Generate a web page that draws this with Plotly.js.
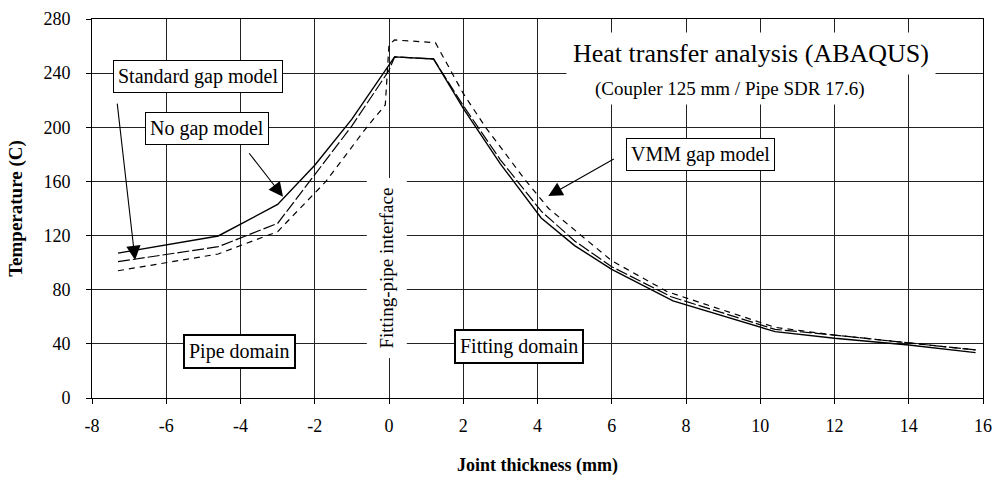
<!DOCTYPE html>
<html>
<head>
<meta charset="utf-8">
<script src="https://cdn.plot.ly/plotly-3.0.1.min.js"></script>
<style>html,body{margin:0;padding:0;background:#fff;}#chart{width:997px;height:479px;}</style>
</head>
<body>
<div id="chart"></div>
<script>
// Joint thickness (mm) vs temperature (C)
const xNoGap = [-7.3, -4.6, -3.0, -2.0, -1.0, 0.15, 1.2, 2.0, 3.0, 4.1, 5.0, 6.0, 7.65, 10.4, 12.0, 14.0, 15.8];
const yNoGap = [107, 119.7, 143, 172, 206, 252, 250.5, 214, 173, 133, 112.6, 95, 71.7, 49, 44.1, 39.2, 33.5];

const xStandard = [-7.3, -4.6, -3.0, -2.0, -1.0, 0.0, 0.15, 1.2, 2.0, 3.0, 4.1, 5.0, 6.0, 7.6, 10.4, 12.0, 14.0, 15.8];
const yStandard = [100.7, 111.8, 129, 165, 201, 242, 252, 250.5, 216, 176, 138, 116, 97, 74.8, 50.7, 46.5, 40.9, 35.5];

const xVmm = [-7.3, -4.6, -3.0, -1.7, -0.6, -0.1, 0.0, 0.15, 1.25, 2.0, 2.6, 3.7, 4.3, 5.6, 6.0, 7.5, 10.4, 12.0, 14.0, 15.8];
const yVmm = [94, 106.4, 122.9, 160, 200, 216.5, 261, 264.5, 262.5, 225, 200, 160, 140, 110.6, 101.4, 78.5, 52.2, 46.5, 40.9, 35.5];

const xTicks = [-8, -6, -4, -2, 0, 2, 4, 6, 8, 10, 12, 14, 16];
const yTicks = [0, 40, 80, 120, 160, 200, 240, 280];

const titleText = 'Heat transfer analysis (ABAQUS)';
const subtitleText = '(Coupler 125 mm / Pipe SDR 17.6)';
const xTitle = 'Joint thickness (mm)';
const yTitle = 'Temperature (C)';

const serif = 'Liberation Serif, Times New Roman, serif';

const traces = [
  {x: xNoGap, y: yNoGap, mode: 'lines', name: 'No gap model',
   line: {color: '#000', width: 1.4, dash: 'solid'}},
  {x: xStandard, y: yStandard, mode: 'lines', name: 'Standard gap model',
   line: {color: '#000', width: 1.2, dash: '12px,3px'}},
  {x: xVmm, y: yVmm, mode: 'lines', name: 'VMM gap model',
   line: {color: '#000', width: 1.2, dash: '6px,5px'}}
];

const boxFont = {family: serif, size: 20, color: '#000'};
const C = {xref: 'paper', yref: 'paper', xanchor: 'center', yanchor: 'middle', showarrow: false};

const annotations = [
  Object.assign({}, C, {x: 0.740, y: 0.910, text: titleText,
   font: {family: serif, size: 26, color: '#000'}, bgcolor: '#fff', borderpad: 6}),
  Object.assign({}, C, {x: 0.7155, y: 0.8166, text: subtitleText,
   font: {family: serif, size: 19, color: '#000'}, bgcolor: '#fff', borderpad: 4}),
  Object.assign({}, C, {x: 0.119, y: 0.848, text: 'Standard gap model',
   font: boxFont, bgcolor: '#fff', bordercolor: '#000', borderwidth: 1, borderpad: 4}),
  Object.assign({}, C, {x: 0.129, y: 0.712, text: 'No gap model',
   font: boxFont, bgcolor: '#fff', bordercolor: '#000', borderwidth: 1, borderpad: 4}),
  Object.assign({}, C, {x: 0.683, y: 0.642, text: 'VMM gap model',
   font: boxFont, bgcolor: '#fff', bordercolor: '#000', borderwidth: 1, borderpad: 4}),
  Object.assign({}, C, {x: 0.165, y: 0.123, text: 'Pipe domain',
   font: boxFont, bgcolor: '#fff', bordercolor: '#000', borderwidth: 2, borderpad: 4}),
  Object.assign({}, C, {x: 0.479, y: 0.135, text: 'Fitting domain',
   font: boxFont, bgcolor: '#fff', bordercolor: '#000', borderwidth: 2, borderpad: 4}),
  Object.assign({}, C, {x: 0.331, y: 0.344, text: 'Fitting-pipe interface',
   textangle: -90, font: {family: serif, size: 19, color: '#000'}, bgcolor: '#fff', borderpad: 9}),
  // arrows
  {xref: 'x', yref: 'y', x: -6.84, y: 101.9, text: '', showarrow: true, ax: -18, ay: -158,
   arrowhead: 2, arrowsize: 2.6, arrowwidth: 1.1, arrowcolor: '#000', standoff: 0},
  {xref: 'x', yref: 'y', x: -2.855, y: 148.7, text: '', showarrow: true, ax: -35, ay: -45,
   arrowhead: 2, arrowsize: 2.6, arrowwidth: 1.1, arrowcolor: '#000', standoff: 0},
  {xref: 'x', yref: 'y', x: 4.29, y: 149.2, text: '', showarrow: true, ax: 67, ay: -38,
   arrowhead: 2, arrowsize: 2.6, arrowwidth: 1.1, arrowcolor: '#000', standoff: 0}
];

const layout = {
  width: 997, height: 479,
  margin: {l: 92, r: 14, t: 19, b: 81},
  paper_bgcolor: '#fff', plot_bgcolor: '#fff',
  showlegend: false,
  font: {family: serif, size: 18, color: '#000'},
  xaxis: {
    range: [-8, 16], tickvals: xTicks, ticktext: xTicks.map(String), automargin: false,
    showgrid: true, gridcolor: '#222', gridwidth: 1, zeroline: false,
    showline: true, linecolor: '#000', linewidth: 1, mirror: true,
    ticks: 'outside', ticklen: 5, tickcolor: '#000',
    tickfont: {family: serif, size: 18, color: '#000'},
    ticklabelstandoff: 6,
    title: {text: '<b>' + xTitle + '</b>', font: {family: serif, size: 18, color: '#000'}, standoff: 23}
  },
  yaxis: {
    range: [0, 280], tickvals: yTicks, ticktext: yTicks.map(String), automargin: false,
    showgrid: true, gridcolor: '#222', gridwidth: 1, zeroline: false,
    showline: true, linecolor: '#000', linewidth: 1, mirror: true,
    ticks: 'outside', ticklen: 5, tickcolor: '#000',
    tickfont: {family: serif, size: 18, color: '#000'},
    ticklabelstandoff: 12,
    title: {text: '<b>' + yTitle + '</b>', font: {family: serif, size: 19, color: '#000'}, standoff: 15}
  },
  annotations: annotations
};

Plotly.newPlot('chart', traces, layout, {staticPlot: true, displayModeBar: false});
</script>
</body>
</html>
